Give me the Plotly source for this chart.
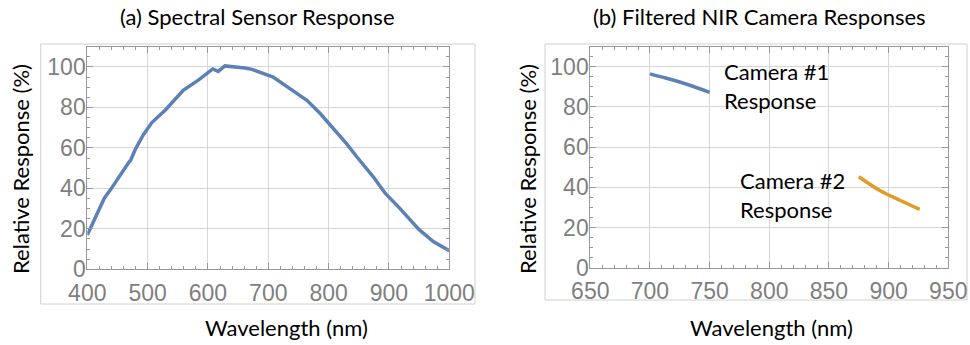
import plotly.graph_objects as go

# Panel (a): spectral sensor response
wl_a = [400, 415, 428, 440, 454, 468, 472, 480, 493, 507, 529, 559, 584, 608, 617,
        628, 661, 673, 708, 736, 764, 786, 808, 830, 847, 874, 894, 918, 950, 974, 1000]
resp_a = [17, 26.5, 35, 40, 46.5, 52.5, 54, 59.5, 66.5, 72.5, 78.6, 88.5, 93.5, 99, 97.8,
          100.5, 99.5, 98.8, 95, 89.3, 83.5, 77, 69.5, 62, 55.5, 45.7, 37.5, 30.1, 19.6, 13.6, 9.2]

# Panel (b): filtered NIR camera responses
wl_cam1 = [700, 712, 729, 750]
resp_cam1 = [96.5, 94.6, 91.7, 87.3]
wl_cam2 = [875, 893, 909, 926]
resp_cam2 = [45.3, 38.3, 33.7, 29.0]

titles = ["(a) Spectral Sensor Response", "(b) Filtered NIR Camera Responses"]
x_title = "Wavelength (nm)"
y_title = "Relative Response (%)"
cam_labels = ["Camera #1<br>Response", "Camera #2<br>Response"]

BLUE = "#5E81B5"
ORANGE = "#E19C24"
W, H = 970, 345

fig = go.Figure()
fig.add_trace(go.Scatter(x=wl_a, y=resp_a, mode="lines", line=dict(color=BLUE, width=3.5),
                         xaxis="x", yaxis="y", showlegend=False))
fig.add_trace(go.Scatter(x=wl_cam1, y=resp_cam1, mode="lines", line=dict(color=BLUE, width=3.5, shape="spline"),
                         xaxis="x2", yaxis="y2", showlegend=False))
fig.add_trace(go.Scatter(x=wl_cam2, y=resp_cam2, mode="lines", line=dict(color=ORANGE, width=3.5, shape="spline"),
                         xaxis="x2", yaxis="y2", showlegend=False))

tickfont = dict(family="Liberation Sans, Arial, sans-serif", size=23, color="#7f7f7f")
common = dict(showline=True, linecolor="#999999", linewidth=1, mirror="allticks",
              ticks="inside", ticklen=6, tickcolor="#999999", tickwidth=1,
              showgrid=True, gridcolor="#d6d6d6", gridwidth=1, zeroline=False,
              tickfont=tickfont, automargin=False)

def px(x):
    return x / W

def py(y):
    return 1 - y / H

minor_style = dict(ticks="inside", ticklen=3, tickcolor="#999999", showgrid=False)

fig.update_layout(
    width=W, height=H, margin=dict(l=0, r=0, t=0, b=0, autoexpand=False),
    paper_bgcolor="white", plot_bgcolor="white",
    xaxis=dict(domain=[px(87.3), px(449.3)], range=[400, 1000], dtick=100, anchor="y",
               minor=dict(dtick=20, **minor_style), ticklabelstandoff=3, **common),
    yaxis=dict(domain=[py(269.3), py(46.7)], range=[0, 110], dtick=20, anchor="x",
               minor=dict(dtick=5, **minor_style), ticklabelstandoff=-4, **common),
    xaxis2=dict(domain=[px(590.3), px(948.3)], range=[650, 950], dtick=50, anchor="y2",
                minor=dict(dtick=10, **minor_style), ticklabelstandoff=3, **common),
    yaxis2=dict(domain=[py(267.7), py(46.7)], range=[0, 110], dtick=20, anchor="x2",
                minor=dict(dtick=5, **minor_style), ticklabelstandoff=-4, **common),
)

txtfont = dict(family="Lato, sans-serif", size=22, color="black")
ann = []
# panel titles
ann.append(dict(x=px(257), y=py(16), text=titles[0]))
ann.append(dict(x=px(759), y=py(16), text=titles[1]))
# axis titles
ann.append(dict(x=px(286), y=py(327), text=x_title))
ann.append(dict(x=px(771), y=py(327), text=x_title))
ann.append(dict(x=px(20), y=py(169), text=y_title, textangle=-90))
ann.append(dict(x=px(527), y=py(169), text=y_title, textangle=-90))
for a in ann:
    a.update(xref="paper", yref="paper", showarrow=False, xanchor="center", yanchor="middle", font=txtfont)
    fig.add_annotation(**a)

# camera labels (placed in data coordinates of panel b)
fig.add_annotation(x=760, y=90.5, xref="x2", yref="y2", text=cam_labels[0], showarrow=False,
                   xanchor="left", yanchor="middle", align="left", font=txtfont)
fig.add_annotation(x=773.5, y=36.4, xref="x2", yref="y2", text=cam_labels[1], showarrow=False,
                   xanchor="left", yanchor="middle", align="left", font=txtfont)

# light outer frames around each panel image
fig.add_shape(type="rect", xref="paper", yref="paper", x0=px(40.7), x1=px(475), y0=py(304), y1=py(44),
              line=dict(color="#d0d0d0", width=1), layer="below")
fig.add_shape(type="rect", xref="paper", yref="paper", x0=px(545), x1=px(967), y0=py(300), y1=py(44),
              line=dict(color="#d0d0d0", width=1), layer="below")

fig.write_html("out.html")
